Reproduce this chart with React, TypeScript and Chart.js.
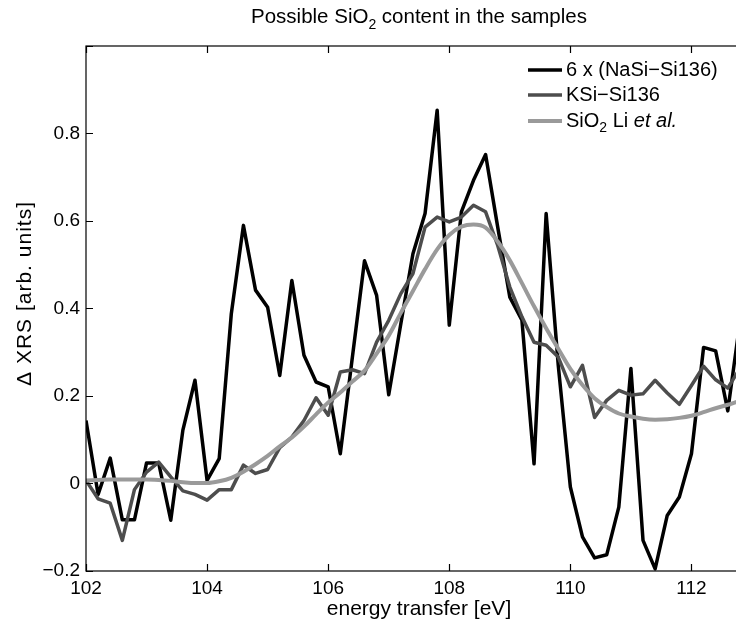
import React, { useEffect, useRef } from "react";
import { Chart, registerables } from "chart.js";

Chart.register(...registerables);

const energy = [
  102.0, 102.2, 102.4, 102.6, 102.8, 103.0, 103.2, 103.4, 103.6, 103.8,
  104.0, 104.2, 104.4, 104.6, 104.8, 105.0, 105.2, 105.4, 105.6, 105.8,
  106.0, 106.2, 106.4, 106.6, 106.8, 107.0, 107.2, 107.4, 107.6, 107.8,
  108.0, 108.2, 108.4, 108.6, 108.8, 109.0, 109.2, 109.4, 109.6, 109.8,
  110.0, 110.2, 110.4, 110.6, 110.8, 111.0, 111.2, 111.4, 111.6, 111.8,
  112.0, 112.2, 112.4, 112.6, 112.8, 113.0,
];

const nasiSi136x6 = [
  0.144, -0.025, 0.058, -0.083, -0.083, 0.047, 0.047, -0.084, 0.122, 0.236,
  0.007, 0.057, 0.388, 0.59, 0.442, 0.403, 0.247, 0.464, 0.293, 0.232,
  0.221, 0.068, 0.289, 0.509, 0.43, 0.203, 0.365, 0.525, 0.617, 0.853,
  0.362, 0.621, 0.693, 0.752, 0.586, 0.426, 0.373, 0.045, 0.617, 0.27,
  -0.008, -0.122, -0.17, -0.163, -0.054, 0.263, -0.13, -0.195, -0.073, -0.031,
  0.068, 0.311, 0.303, 0.166, 0.369, 0.3,
];

const ksiSi136 = [
  0.007, -0.035, -0.045, -0.13, -0.014, 0.026, 0.049, 0.015, -0.017, -0.025,
  -0.038, -0.014, -0.014, 0.042, 0.023, 0.032, 0.082, 0.106, 0.144, 0.196,
  0.156, 0.255, 0.26, 0.251, 0.323, 0.373, 0.434, 0.48, 0.586, 0.609,
  0.598, 0.609, 0.636, 0.621, 0.544, 0.449, 0.381, 0.323, 0.316, 0.289,
  0.221, 0.27, 0.151, 0.19, 0.213, 0.202, 0.205, 0.236, 0.207, 0.181,
  0.224, 0.268, 0.237, 0.218, 0.263, 0.25,
];

const sio2Li = [
  0.007, 0.008, 0.009, 0.009, 0.009, 0.009, 0.008, 0.006, 0.003, 0.001,
  0.001, 0.005, 0.013, 0.027, 0.044, 0.063, 0.085, 0.105, 0.13, 0.158,
  0.185, 0.208, 0.233, 0.258, 0.297, 0.338, 0.39, 0.44, 0.49, 0.535,
  0.568, 0.587, 0.592, 0.585, 0.553, 0.51, 0.458, 0.405, 0.355, 0.308,
  0.262, 0.225, 0.195, 0.175, 0.16, 0.153, 0.148, 0.146, 0.147, 0.15,
  0.155, 0.163, 0.172, 0.18, 0.189, 0.197,
];

const xTickValues = [102, 104, 106, 108, 110, 112];
const xTickLabels = ["102", "104", "106", "108", "110", "112"];
const yTickValues = [-0.2, 0, 0.2, 0.4, 0.6, 0.8, 1.0];
const yTickLabels = ["\u22120.2", "0", "0.2", "0.4", "0.6", "0.8", ""];

const titleText = ["Possible SiO", "2", " content in the samples"];
const xLabel = "energy transfer [eV]";
const yLabel = "\u0394 XRS [arb. units]";
const legendNames = ["6 x (NaSi\u2212Si136)", "KSi\u2212Si136", "SiO2 Li et al."];
const seriesColors = ["#000000", "#4d4d4d", "#9a9a9a"];
const seriesWidths = [3.5, 3.5, 4];

const FONT = '"Liberation Sans", Arial, Helvetica, sans-serif';

export default function App() {
  const ref = useRef<HTMLCanvasElement | null>(null);

  useEffect(() => {
    if (!ref.current) return;
    const series = [nasiSi136x6, ksiSi136, sio2Li];

    const decor = {
      id: "decor",
      afterDraw(chart: any) {
        const ctx = chart.ctx as CanvasRenderingContext2D;
        const a = chart.chartArea;
        const xs = chart.scales.x;
        const ys = chart.scales.y;
        ctx.save();
        // box
        ctx.strokeStyle = "#000";
        ctx.lineWidth = 1.2;
        ctx.strokeRect(a.left, a.top, a.right - a.left, a.bottom - a.top);
        // inward ticks
        const tl = 7;
        ctx.beginPath();
        xTickValues.forEach((v) => {
          const px = Math.round(xs.getPixelForValue(v)) + 0.5;
          ctx.moveTo(px, a.bottom);
          ctx.lineTo(px, a.bottom - tl);
          ctx.moveTo(px, a.top);
          ctx.lineTo(px, a.top + tl);
        });
        yTickValues.forEach((v) => {
          const py = Math.round(ys.getPixelForValue(v)) + 0.5;
          ctx.moveTo(a.left, py);
          ctx.lineTo(a.left + tl, py);
          ctx.moveTo(a.right, py);
          ctx.lineTo(a.right - tl, py);
        });
        ctx.stroke();

        ctx.fillStyle = "#000";
        // title
        const titleF = `20.5px ${FONT}`;
        const mainF = `20px ${FONT}`;
        const subF = `14px ${FONT}`;
        ctx.font = titleF;
        const w0 = ctx.measureText(titleText[0]).width;
        const w2 = ctx.measureText(titleText[2]).width;
        ctx.font = subF;
        const w1 = ctx.measureText(titleText[1]).width;
        const total = w0 + w1 + w2;
        let tx = (a.left + a.right) / 2 - total / 2;
        const tb = 15;
        ctx.textBaseline = "alphabetic";
        ctx.textAlign = "left";
        ctx.font = titleF;
        ctx.fillText(titleText[0], tx, tb);
        tx += w0;
        ctx.font = subF;
        ctx.fillText(titleText[1], tx, tb + 6);
        tx += w1;
        ctx.font = titleF;
        ctx.fillText(titleText[2], tx, tb);

        // x label
        ctx.font = `21px ${FONT}`;
        ctx.textAlign = "center";
        ctx.fillText(xLabel, (a.left + a.right) / 2, 607);

        // y label
        ctx.save();
        ctx.translate(17, 285.5);
        ctx.rotate(-Math.PI / 2);
        ctx.font = `21px ${FONT}`;
        try {
          (ctx as any).letterSpacing = "1px";
        } catch (e) {}
        ctx.textAlign = "center";
        ctx.textBaseline = "middle";
        ctx.fillText(yLabel, 0, 0);
        ctx.restore();

        // legend
        const lx0 = 520;
        const lx1 = 554;
        const tx0 = 558;
        const rows = [62, 87, 113];
        rows.forEach((ry, i) => {
          ctx.strokeStyle = seriesColors[i];
          ctx.lineWidth = seriesWidths[i];
          ctx.beginPath();
          ctx.moveTo(lx0, ry);
          ctx.lineTo(lx1, ry);
          ctx.stroke();
          ctx.textAlign = "left";
          ctx.textBaseline = "middle";
          ctx.font = mainF;
          if (i < 2) {
            ctx.fillText(legendNames[i], tx0, ry);
          } else {
            let x = tx0;
            ctx.fillText("SiO", x, ry);
            x += ctx.measureText("SiO").width;
            ctx.font = subF;
            ctx.fillText("2", x, ry + 7);
            x += ctx.measureText("2").width;
            ctx.font = mainF;
            ctx.fillText(" Li ", x, ry);
            x += ctx.measureText(" Li ").width;
            ctx.font = `italic 20px ${FONT}`;
            ctx.fillText("et al.", x, ry);
          }
        });
        ctx.restore();
      },
    };

    const chart = new Chart(ref.current, {
      type: "line",
      data: {
        datasets: series.map((s, i) => ({
          label: legendNames[i],
          data: energy.map((x, j) => ({ x, y: s[j] })),
          borderColor: seriesColors[i],
          backgroundColor: seriesColors[i],
          borderWidth: seriesWidths[i],
          pointRadius: 0,
          fill: false,
          tension: 0,
          cubicInterpolationMode: i === 2 ? "monotone" : "default",
          borderJoinStyle: "round",
          order: 2 - i,
        })),
      },
      options: {
        responsive: false,
        animation: false,
        events: [],
        layout: { padding: { top: 38, right: 16, left: 0, bottom: 0 } },
        plugins: {
          legend: { display: false },
          title: { display: false },
          tooltip: { enabled: false },
        },
        scales: {
          x: {
            type: "linear",
            min: 102,
            max: 113,
            grid: { display: false, drawTicks: false },
            border: { display: false },
            afterBuildTicks: (scale: any) => {
              scale.ticks = xTickValues.map((v) => ({ value: v }));
            },
            afterFit: (scale: any) => {
              scale.height = 52;
            },
            ticks: {
              autoSkip: false,
              maxRotation: 0,
              padding: 6,
              color: "#000",
              font: { family: FONT, size: 19 },
              callback: (v: any) => {
                const i = xTickValues.findIndex((t) => Math.abs(t - Number(v)) < 1e-6);
                return i >= 0 ? xTickLabels[i] : "";
              },
            },
          },
          y: {
            type: "linear",
            min: -0.2,
            max: 1.0,
            grid: { display: false, drawTicks: false },
            border: { display: false },
            afterBuildTicks: (scale: any) => {
              scale.ticks = yTickValues.map((v) => ({ value: v }));
            },
            afterFit: (scale: any) => {
              scale.width = 78;
            },
            ticks: {
              autoSkip: false,
              padding: 6,
              color: "#000",
              font: { family: FONT, size: 19 },
              callback: (v: any) => {
                const i = yTickValues.findIndex((t) => Math.abs(t - Number(v)) < 1e-6);
                return i >= 0 ? yTickLabels[i] : "";
              },
            },
          },
        },
      },
      plugins: [decor],
    } as any);

    return () => chart.destroy();
  }, []);

  return (
    <div style={{ width: 736, height: 615, overflow: "hidden" }}>
      <canvas
        ref={ref}
        width={760}
        height={615}
        style={{ display: "block", width: 760, height: 615 }}
      />
    </div>
  );
}
